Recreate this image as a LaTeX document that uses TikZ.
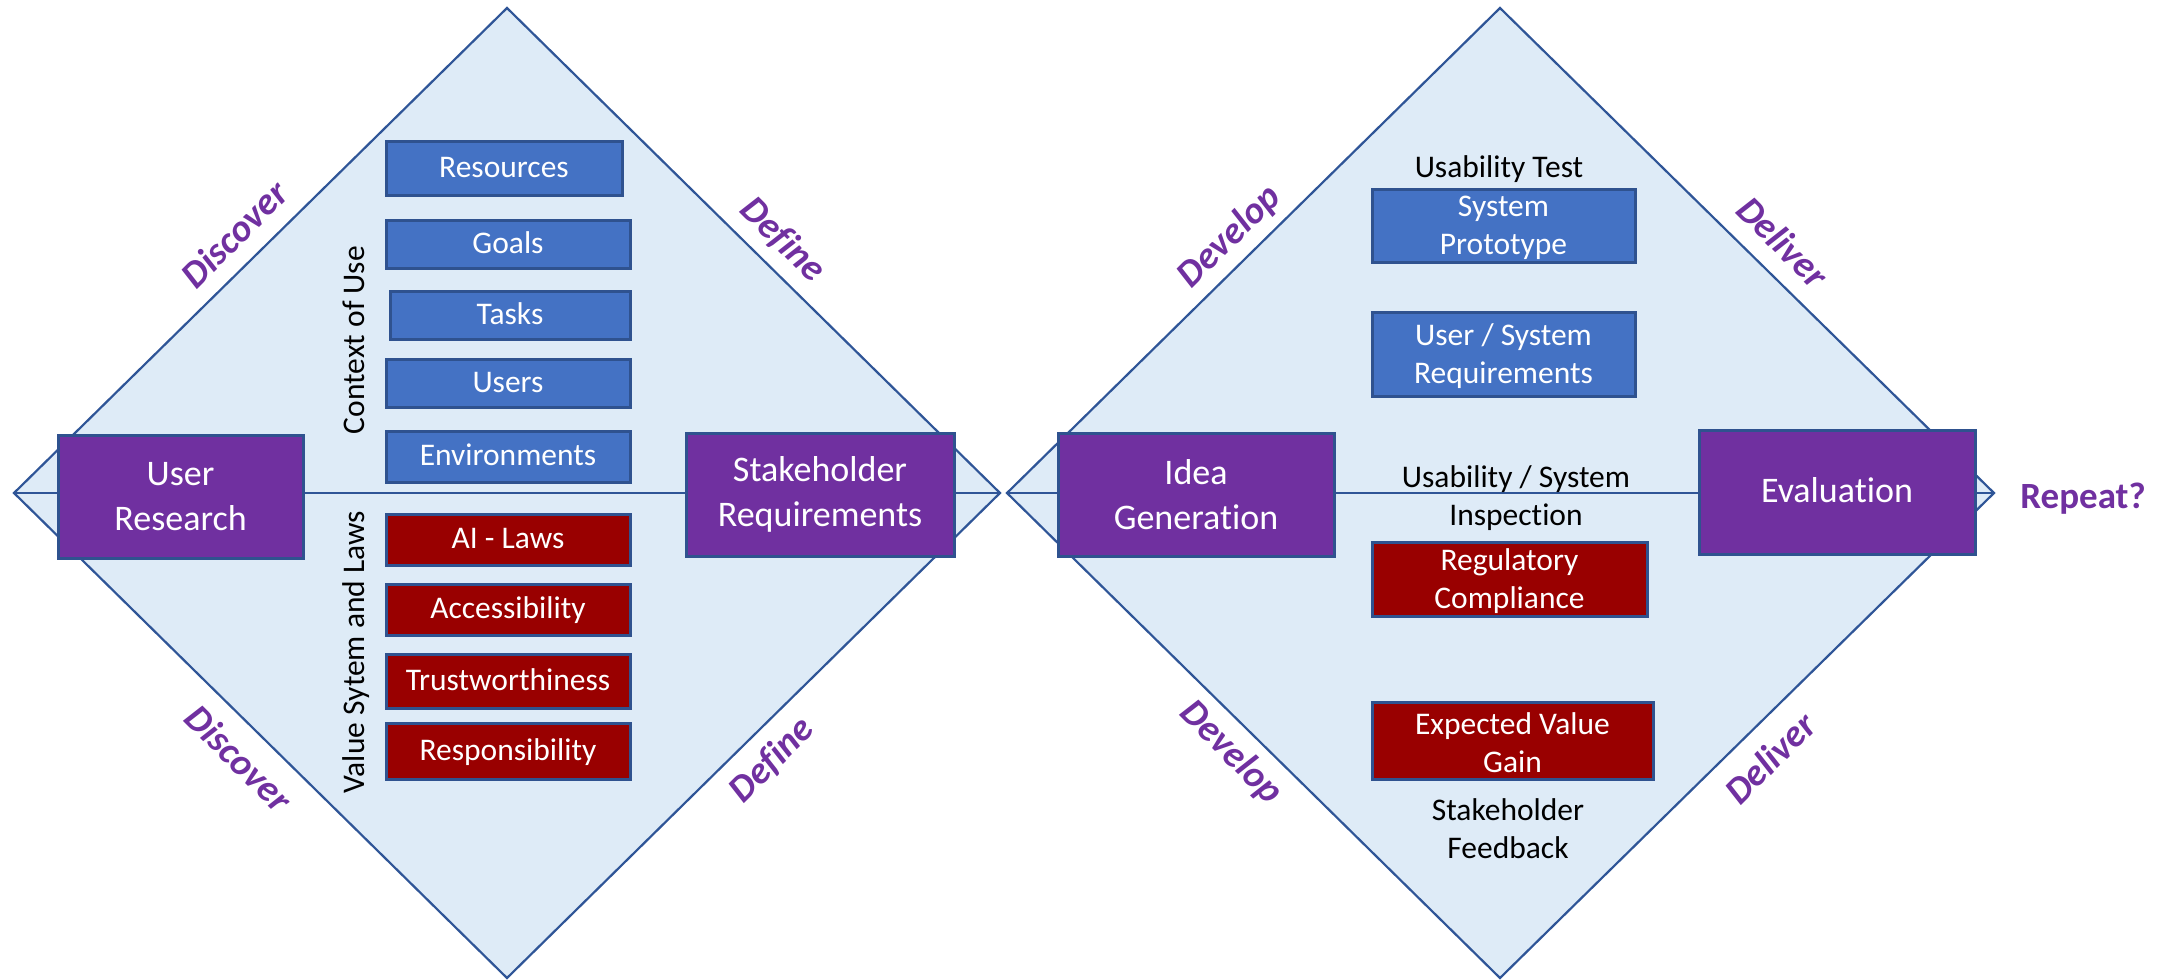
\documentclass[tikz,border=0pt]{standalone}
\usepackage{fontspec}
\setmainfont{Carlito}[Ligatures=CommonOff]
\definecolor{diafill}{HTML}{DEEBF7}
\definecolor{diaedge}{HTML}{2F5597}
\definecolor{boxblue}{HTML}{4472C4}
\definecolor{boxedge}{HTML}{2F528F}
\definecolor{boxred}{HTML}{990000}
\definecolor{boxpurple}{HTML}{7030A0}
\definecolor{phasepurple}{HTML}{7030A0}
\newcommand{\firstline}{\rule{0pt}{26pt}}
\begin{document}
\begin{tikzpicture}[x=1pt,y=-1pt,
  dia/.style={fill=diafill, draw=diaedge, line width=2.2pt, line join=miter},
  axisline/.style={draw=diaedge, line width=2.2pt},
  bluebox/.style={rectangle, fill=boxblue, draw=boxedge, line width=3pt, text=white,
    font=\fontsize{31.5}{38}\selectfont, align=center, inner sep=0pt},
  oneline/.style={text height=25pt, text depth=6.3pt},
  redbox/.style={bluebox, fill=boxred},
  purplebox/.style={bluebox, fill=boxpurple, font=\fontsize{36}{45}\selectfont},
  phase/.style={text=phasepurple, inner sep=0pt, font=\fontsize{38}{40}\selectfont\bfseries\itshape},
  plain/.style={inner sep=0pt, align=center, font=\fontsize{31.5}{38}\selectfont},
  sidelabel/.style={inner sep=0pt, rotate=90, anchor=base, font=\fontsize{31.5}{38}\selectfont},
  repeatlabel/.style={inner sep=0pt, text=phasepurple, font=\fontsize{37}{40}\selectfont\bfseries}
]
\useasboundingbox (0,0) rectangle (2172,980);

% diamond vertices
\coordinate (AT) at (507,8);
\coordinate (AL) at (14,493);
\coordinate (AR) at (1000,493);
\coordinate (AB) at (507,978);
\coordinate (BT) at (1500,8);
\coordinate (BL) at (1007,493);
\coordinate (BR) at (1994,493);
\coordinate (BB) at (1500,978);

\path[dia] (AT) -- (AR) -- (AB) -- (AL) -- cycle;
\path[dia] (BT) -- (BR) -- (BB) -- (BL) -- cycle;
\draw[axisline] (AL) -- (AR);
\draw[axisline] (BL) -- (BR);

% left diamond
\node[purplebox, minimum width=245pt, minimum height=123pt] (ur) at (180.5,496.5) {User\\Research};
\node[purplebox, minimum width=268pt, minimum height=123pt] (sr) at (820,494.5) {Stakeholder\\Requirements};

\node[bluebox, oneline, minimum width=236pt, minimum height=54pt] (res) at (504,168) {Resources};
\node[bluebox, oneline, minimum width=244pt, minimum height=48pt] (goals) at (508,244) {Goals};
\node[bluebox, oneline, minimum width=240pt, minimum height=48pt] (tasks) at (510,315) {Tasks};
\node[bluebox, oneline, minimum width=244pt, minimum height=48pt] (users) at (508,383) {Users};
\node[bluebox, oneline, minimum width=244pt, minimum height=51pt] (env) at (508,456.5) {Environments};

\node[redbox, oneline, minimum width=244pt, minimum height=51pt] (ai) at (508,539.5) {AI - Laws};
\node[redbox, oneline, minimum width=244pt, minimum height=51pt] (acc) at (508,609.5) {Accessibility};
\node[redbox, oneline, minimum width=244pt, minimum height=54pt] (trust) at (508,681) {Trustworthiness};
\node[redbox, oneline, minimum width=244pt, minimum height=56pt] (resp) at (508,751) {Responsibility};

\node[sidelabel] (cou) at (364,340) {Context of Use};
\node[sidelabel] (vsl) at (364,652) {Value Sytem and Laws};

\node[phase, rotate=45] (disc1) at (234,234) {Discover};
\node[phase, rotate=-45] (def1) at (783,240) {Define};
\node[phase, rotate=-45] (disc2) at (239,758) {Discover};
\node[phase, rotate=45] (def2) at (772,760) {Define};

% right diamond
\node[purplebox, minimum width=276pt, minimum height=123pt] (idea) at (1196,494.5) {Idea\\Generation};
\node[purplebox, oneline, text height=28.8pt, text depth=7.2pt, minimum width=276pt, minimum height=124pt] (eval) at (1837,492) {Evaluation};

\node[plain, anchor=base] (ut) at (1499,177) {Usability Test};
\node[bluebox, minimum width=263pt, minimum height=73pt] (sp) at (1503.5,225.5) {\firstline System\\Prototype};
\node[bluebox, minimum width=263pt, minimum height=84pt] (usr) at (1503.5,354) {\firstline User / System\\Requirements};
\node[plain] (usi) at (1516,498) {Usability / System\\Inspection};
\node[redbox, minimum width=275pt, minimum height=74pt] (rc) at (1509.5,579) {\firstline Regulatory\\Compliance};
\node[redbox, minimum width=281pt, minimum height=77pt] (evg) at (1512.5,740.5) {\firstline Expected Value\\Gain};
\node[plain] (sf) at (1508,829) {Stakeholder\\Feedback};

\node[phase, rotate=45] (dev1) at (1230,237) {Develop};
\node[phase, rotate=-45] (del1) at (1783,242) {Deliver};
\node[phase, rotate=-45] (dev2) at (1231,753) {Develop};
\node[phase, rotate=45] (del2) at (1770,758) {Deliver};

\node[repeatlabel] (rep) at (2083,499) {Repeat?};
\end{tikzpicture}
\end{document}
